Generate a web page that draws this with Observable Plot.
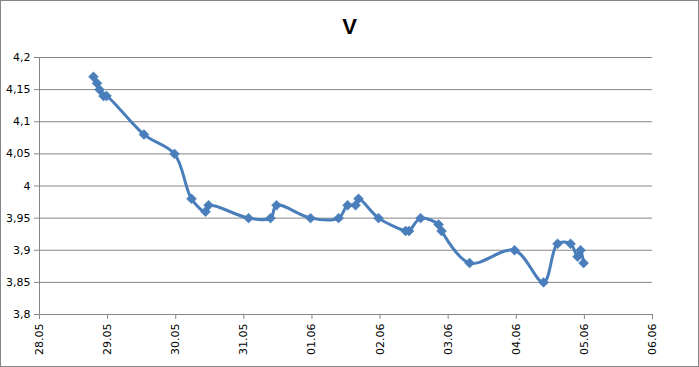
<!DOCTYPE html>
<html>
<head>
<meta charset="utf-8">
<script src="https://cdn.jsdelivr.net/npm/d3@7"></script>
<script src="https://cdn.jsdelivr.net/npm/@observablehq/plot@0.6"></script>
<style>
  html, body { margin: 0; padding: 0; background: #fff; }
  #wrap { position: relative; width: 699px; height: 367px; }
  #frame { position: absolute; left: 0; top: 0; width: 699px; height: 367px; box-sizing: border-box; border: 1px solid #868686; pointer-events: none; }
</style>
</head>
<body>
<div id="wrap"><div id="chart"></div><div id="frame"></div></div>
<script>
const title = "V";
const times = [
  "2013-05-28 19:00", "2013-05-28 20:15", "2013-05-28 21:09", "2013-05-28 22:33", "2013-05-28 23:37",
  "2013-05-29 12:49", "2013-05-29 23:34",
  "2013-05-30 05:34", "2013-05-30 10:30", "2013-05-30 11:34",
  "2013-05-31 01:40", "2013-05-31 09:24", "2013-05-31 11:31", "2013-05-31 23:30",
  "2013-06-01 09:23", "2013-06-01 12:33", "2013-06-01 15:22", "2013-06-01 16:25", "2013-06-01 23:28",
  "2013-06-02 09:00", "2013-06-02 10:13", "2013-06-02 14:17", "2013-06-02 20:37", "2013-06-02 21:40",
  "2013-06-03 07:32", "2013-06-03 23:24",
  "2013-06-04 09:37", "2013-06-04 14:33", "2013-06-04 19:08", "2013-06-04 21:36", "2013-06-04 22:39", "2013-06-04 23:43"
];
const values = [
  4.17, 4.16, 4.15, 4.14, 4.14,
  4.08, 4.05,
  3.98, 3.96, 3.97,
  3.95, 3.95, 3.97, 3.95,
  3.95, 3.97, 3.97, 3.98, 3.95,
  3.93, 3.93, 3.95, 3.94, 3.93,
  3.88, 3.90,
  3.85, 3.91, 3.91, 3.89, 3.90, 3.88
];
const xTickDates = ["2013-05-28", "2013-05-29", "2013-05-30", "2013-05-31", "2013-06-01",
  "2013-06-02", "2013-06-03", "2013-06-04", "2013-06-05", "2013-06-06"];
const yTicks = [3.8, 3.85, 3.9, 3.95, 4.0, 4.05, 4.1, 4.15, 4.2];

const parseT = d3.utcParse("%Y-%m-%d %H:%M");
const parseD = d3.utcParse("%Y-%m-%d");
const data = times.map((t, i) => ({ t: parseT(t), v: values[i] }));
const xTicks = xTickDates.map(parseD);
const yFmt = d => d3.format(".2~f")(d).replace(".", ",");
const grey = "#868686";
const blue = "#4a7ebb";

const chart = Plot.plot({
  width: 699,
  height: 367,
  marginLeft: 39,
  marginRight: 47,
  marginTop: 57,
  marginBottom: 53,
  style: { fontFamily: "DejaVu Sans", fontSize: "11px", color: "#000", background: "transparent" },
  x: { type: "utc", domain: [xTicks[0], xTicks[xTicks.length - 1]], label: null },
  y: { domain: [3.8, 4.2], label: null },
  marks: [
    Plot.gridY(yTicks, { stroke: grey, strokeOpacity: 1 }),
    Plot.ruleX([xTicks[0]], { stroke: grey }),
    Plot.ruleY([3.8], { stroke: grey }),
    Plot.axisY(yTicks, { tickFormat: yFmt, tickSize: 5, tickPadding: 4, stroke: grey, fill: "#000", label: null }),
    Plot.axisX(xTicks, { tickFormat: d3.utcFormat("%d.%m"), tickRotate: -90, tickSize: 5, tickPadding: 4, stroke: grey, fill: "#000", label: null }),
    Plot.line(data, { x: "t", y: "v", curve: "catmull-rom", stroke: blue, strokeWidth: 3 }),
    Plot.dot(data, { x: "t", y: "v", symbol: "diamond2", r: 4.5, fill: blue, stroke: blue, strokeWidth: 0.5 }),
    Plot.text([title], { frameAnchor: "top", lineAnchor: "middle", dx: 3.5, dy: -31, fontSize: 22, fontWeight: "bold", fontFamily: "Liberation Sans", fill: "#000" })
  ]
});
document.getElementById("chart").appendChild(chart);
</script>
</body>
</html>
